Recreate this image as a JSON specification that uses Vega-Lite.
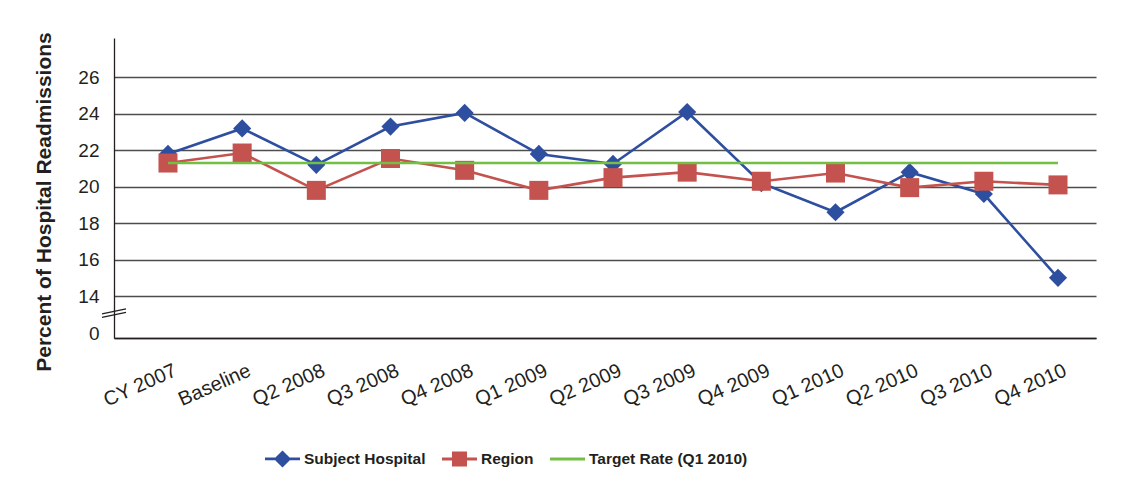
{
  "$schema": "https://vega.github.io/schema/vega-lite/v6.json",
  "width": 982,
  "height": 300,
  "autosize": "none",
  "padding": {"left": 114, "top": 38, "right": 33, "bottom": 146},
  "background": "white",
  "config": {"view": {"stroke": null}},
  "data": {
    "values": [
      {"q": "CY 2007", "s": "Subject Hospital", "v": 21.8},
      {"q": "Baseline", "s": "Subject Hospital", "v": 23.2},
      {"q": "Q2 2008", "s": "Subject Hospital", "v": 21.2},
      {"q": "Q3 2008", "s": "Subject Hospital", "v": 23.3},
      {"q": "Q4 2008", "s": "Subject Hospital", "v": 24.05},
      {"q": "Q1 2009", "s": "Subject Hospital", "v": 21.8},
      {"q": "Q2 2009", "s": "Subject Hospital", "v": 21.25},
      {"q": "Q3 2009", "s": "Subject Hospital", "v": 24.1},
      {"q": "Q4 2009", "s": "Subject Hospital", "v": 20.2},
      {"q": "Q1 2010", "s": "Subject Hospital", "v": 18.6},
      {"q": "Q2 2010", "s": "Subject Hospital", "v": 20.8},
      {"q": "Q3 2010", "s": "Subject Hospital", "v": 19.6},
      {"q": "Q4 2010", "s": "Subject Hospital", "v": 15.0},
      {"q": "CY 2007", "s": "Region", "v": 21.3},
      {"q": "Baseline", "s": "Region", "v": 21.85},
      {"q": "Q2 2008", "s": "Region", "v": 19.8},
      {"q": "Q3 2008", "s": "Region", "v": 21.55},
      {"q": "Q4 2008", "s": "Region", "v": 20.9},
      {"q": "Q1 2009", "s": "Region", "v": 19.8},
      {"q": "Q2 2009", "s": "Region", "v": 20.5},
      {"q": "Q3 2009", "s": "Region", "v": 20.8},
      {"q": "Q4 2009", "s": "Region", "v": 20.3},
      {"q": "Q1 2010", "s": "Region", "v": 20.75},
      {"q": "Q2 2010", "s": "Region", "v": 19.95},
      {"q": "Q3 2010", "s": "Region", "v": 20.3},
      {"q": "Q4 2010", "s": "Region", "v": 20.1},
      {"q": "CY 2007", "s": "Target Rate (Q1 2010)", "v": 21.3},
      {"q": "Baseline", "s": "Target Rate (Q1 2010)", "v": 21.3},
      {"q": "Q2 2008", "s": "Target Rate (Q1 2010)", "v": 21.3},
      {"q": "Q3 2008", "s": "Target Rate (Q1 2010)", "v": 21.3},
      {"q": "Q4 2008", "s": "Target Rate (Q1 2010)", "v": 21.3},
      {"q": "Q1 2009", "s": "Target Rate (Q1 2010)", "v": 21.3},
      {"q": "Q2 2009", "s": "Target Rate (Q1 2010)", "v": 21.3},
      {"q": "Q3 2009", "s": "Target Rate (Q1 2010)", "v": 21.3},
      {"q": "Q4 2009", "s": "Target Rate (Q1 2010)", "v": 21.3},
      {"q": "Q1 2010", "s": "Target Rate (Q1 2010)", "v": 21.3},
      {"q": "Q2 2010", "s": "Target Rate (Q1 2010)", "v": 21.3},
      {"q": "Q3 2010", "s": "Target Rate (Q1 2010)", "v": 21.3},
      {"q": "Q4 2010", "s": "Target Rate (Q1 2010)", "v": 21.3}
    ]
  },
  "encoding": {
    "x": {
      "field": "q", "type": "ordinal", "sort": null,
      "scale": {"type": "point", "padding": 0.62, "align": 0.587},
      "axis": {
        "title": null, "domain": true, "domainColor": "#231f20", "domainWidth": 1.3,
        "ticks": false, "grid": false, "labelAngle": -24, "labelAlign": "right", "labelBaseline": "top",
        "labelPadding": 22, "labelOffset": 3, "labelFont": "Liberation Sans", "labelFontSize": 20,
        "labelColor": "#231f20", "labelOverlap": false
      }
    },
    "y": {
      "field": "v", "type": "quantitative",
      "scale": {"domain": [11.7, 28.16], "nice": false, "zero": false},
      "axis": {
        "values": [11.7, 14, 16, 18, 20, 22, 24, 26],
        "labelExpr": "datum.value < 13 ? '0' : datum.label",
        "labelOffset": {"condition": {"test": "datum.value < 13", "value": -5}, "value": 0},
        "grid": true, "gridColor": "#4d4d4d", "gridWidth": 1.3,
        "domain": true, "domainColor": "#231f20", "domainWidth": 1.3,
        "ticks": false, "labelPadding": 15, "labelFont": "Liberation Sans", "labelFontSize": 19,
        "labelColor": "#231f20",
        "title": "Percent of Hospital Readmissions", "titleFont": "Liberation Sans", "titleFontSize": 21,
        "titleFontWeight": "bold", "titleColor": "#231f20", "titleX": -64, "titleY": 163.5,
        "titleAngle": 270, "titleBaseline": "alphabetic", "titleAlign": "center"
      }
    },
    "color": {
      "field": "s", "type": "nominal",
      "scale": {
        "domain": ["Subject Hospital", "Region", "Target Rate (Q1 2010)"],
        "range": ["#2E4E9F", "#C4524E", "#72BF44"]
      },
      "legend": {
        "orient": "none", "legendX": 151, "legendY": 403, "direction": "horizontal",
        "title": null, "padding": 0,
        "labelFont": "Liberation Sans",
        "labelFontSize": 15.5, "labelFontWeight": "bold", "labelColor": "#231f20", "labelLimit": 0,
        "symbolSize": 1225, "labelOffset": 4, "columnPadding": 16, "symbolStrokeWidth": 0,
        "encoding": {
          "symbols": {
            "shape": {
              "condition": [
                {"test": "datum.value === 'Subject Hospital'", "value": "M-1,-0.08H1V0.08H-1Z M0,-0.49L0.49,0L0,0.49L-0.49,0Z"},
                {"test": "datum.value === 'Region'", "value": "M-1,-0.08H1V0.08H-1Z M-0.43,-0.43H0.43V0.43H-0.43Z"}
              ],
              "value": "M-1,-0.08H1V0.08H-1Z"
            },
            "fill": {
              "condition": [
                {"test": "datum.value === 'Subject Hospital'", "value": "#2E4E9F"},
                {"test": "datum.value === 'Region'", "value": "#C4524E"}
              ],
              "value": "#72BF44"
            },
            "strokeWidth": {"value": 0},
            "opacity": {"value": 1}
          }
        }
      }
    }
  },
  "layer": [
    {"transform": [{"filter": "datum.s === 'Subject Hospital'"}], "mark": {"type": "line", "strokeWidth": 2.6}},
    {"transform": [{"filter": "datum.s === 'Subject Hospital'"}], "mark": {"type": "point", "shape": "diamond", "filled": true, "size": 330, "opacity": 1}},
    {"transform": [{"filter": "datum.s === 'Region'"}], "mark": {"type": "line", "strokeWidth": 2.6}},
    {"transform": [{"filter": "datum.s === 'Region'"}], "mark": {"type": "point", "shape": "square", "filled": true, "size": 361, "opacity": 1}},
    {"transform": [{"filter": "datum.s === 'Target Rate (Q1 2010)'"}], "mark": {"type": "line", "strokeWidth": 2.6}},
    {
      "data": {"values": [{"v": 13.07}]},
      "mark": {"type": "point", "shape": "M-1,0.07L1,-0.35M-1,0.37L1,-0.05", "filled": false, "size": 576, "strokeWidth": 1.3, "opacity": 1},
      "encoding": {"x": {"value": 0}, "y": {"field": "v", "type": "quantitative"}, "color": {"value": "#231f20"}}
    }
  ]
}
